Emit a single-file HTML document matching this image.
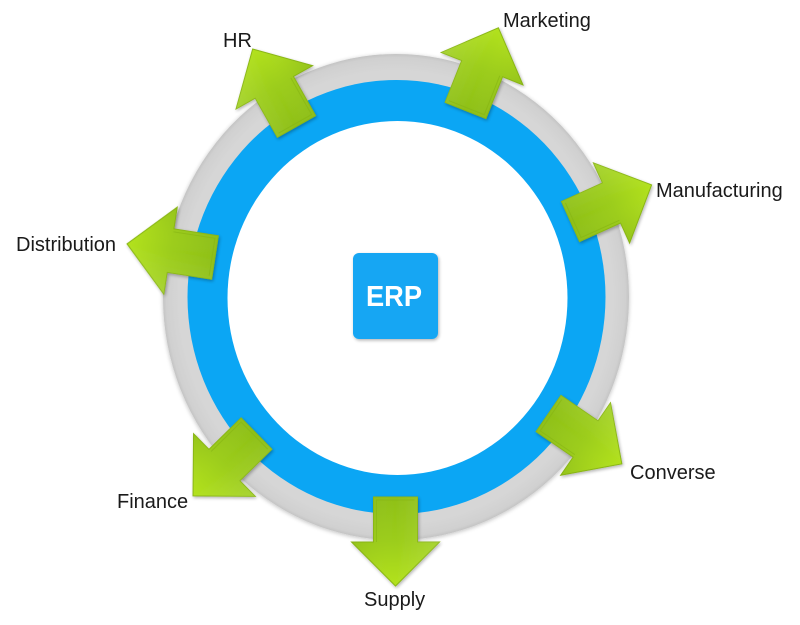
<!DOCTYPE html>
<html>
<head>
<meta charset="utf-8">
<style>
  html, body { margin: 0; padding: 0; background: #ffffff; }
  body { width: 800px; height: 625px; overflow: hidden; }
  svg { display: block; }
  .lbl { font-family: "Liberation Sans", Arial, sans-serif; font-size: 20px; fill: #1a1a1a; }
</style>
</head>
<body>
<svg width="800" height="625" viewBox="0 0 800 625" xmlns="http://www.w3.org/2000/svg">
  <defs>
    <linearGradient id="ag" x1="0" y1="1" x2="0" y2="0">
      <stop offset="0" stop-color="#8fc018"/>
      <stop offset="0.5" stop-color="#9ccd1a"/>
      <stop offset="1" stop-color="#b3e21f"/>
    </linearGradient>
    <linearGradient id="ag2" x1="0" y1="0" x2="1" y2="0">
      <stop offset="0" stop-color="#ffffff" stop-opacity="0.12"/>
      <stop offset="0.5" stop-color="#ffffff" stop-opacity="0"/>
      <stop offset="1" stop-color="#000000" stop-opacity="0.05"/>
    </linearGradient>
    <radialGradient id="greyg" cx="0.5" cy="0.5" r="0.5">
      <stop offset="0.93" stop-color="#d6d6d6"/>
      <stop offset="0.985" stop-color="#d0d0d0"/>
      <stop offset="1" stop-color="#c4c4c4"/>
    </radialGradient>
    <filter id="sh" x="-20%" y="-20%" width="140%" height="140%">
      <feGaussianBlur in="SourceAlpha" stdDeviation="1.5"/>
      <feOffset dx="1" dy="1.5" result="o"/>
      <feComponentTransfer><feFuncA type="linear" slope="0.3"/></feComponentTransfer>
      <feMerge><feMergeNode/><feMergeNode in="SourceGraphic"/></feMerge>
    </filter>
    <filter id="ringsh" x="-10%" y="-10%" width="120%" height="120%">
      <feGaussianBlur in="SourceAlpha" stdDeviation="2"/>
      <feOffset dx="0" dy="1" result="o"/>
      <feComponentTransfer><feFuncA type="linear" slope="0.25"/></feComponentTransfer>
      <feMerge><feMergeNode/><feMergeNode in="SourceGraphic"/></feMerge>
    </filter>
    <g id="arrow">
      <polygon points="-22,0 22,0 22,-45 44,-45 0,-89 -44,-45 -22,-45" fill="url(#ag)" stroke="#8ab714" stroke-width="1"/>
      <polygon points="-22,0 22,0 22,-45 44,-45 0,-89 -44,-45 -22,-45" fill="url(#ag2)"/>
      <polyline points="-19,-3 19,-3 19,-45" fill="none" stroke="#86b412" stroke-width="1" stroke-opacity="0.6"/>
    </g>
  </defs>

  <!-- rings -->
  <ellipse cx="396" cy="297" rx="233" ry="243" fill="url(#greyg)" filter="url(#ringsh)"/>
  <ellipse cx="396.5" cy="297" rx="209" ry="217" fill="#0ba6f4"/>
  <ellipse cx="397.5" cy="298" rx="170" ry="177" fill="#ffffff"/>

  <!-- arrows -->
  <g filter="url(#sh)">
    <use href="#arrow" transform="translate(296.5,126.5) rotate(-29.5)"/>
    <use href="#arrow" transform="translate(465.5,110.5) rotate(21.7)"/>
    <use href="#arrow" transform="translate(570.5,221.5) rotate(65.7)"/>
    <use href="#arrow" transform="translate(548.5,413.5) rotate(124.5)"/>
    <use href="#arrow" transform="translate(395.5,497) rotate(180)"/>
    <use href="#arrow" transform="translate(256.5,433.5) rotate(225.5)"/>
    <use href="#arrow" transform="translate(215,257.5) rotate(278.8)"/>
  </g>

  <!-- ERP box -->
  <rect x="353" y="253" width="85" height="86" rx="6" ry="6" fill="#17a6f3" filter="url(#sh)"/>
  <text x="394" y="306" text-anchor="middle" font-family="'Liberation Sans', Arial, sans-serif" font-size="29" font-weight="bold" fill="#ffffff" textLength="56" lengthAdjust="spacingAndGlyphs">ERP</text>

  <!-- labels -->
  <text class="lbl" x="223" y="47">HR</text>
  <text class="lbl" x="503" y="27">Marketing</text>
  <text class="lbl" x="656" y="197">Manufacturing</text>
  <text class="lbl" x="16" y="251">Distribution</text>
  <text class="lbl" x="117" y="508">Finance</text>
  <text class="lbl" x="630" y="479">Converse</text>
  <text class="lbl" x="364" y="606">Supply</text>
</svg>
</body>
</html>
